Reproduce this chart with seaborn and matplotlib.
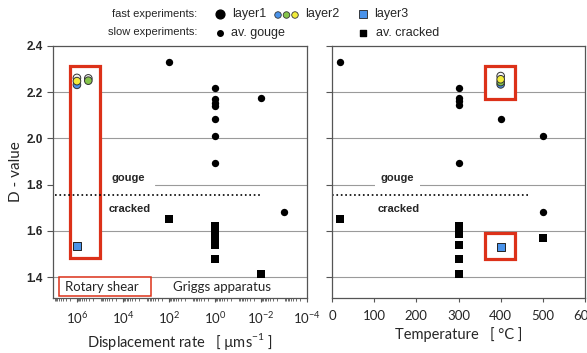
import numpy as np
import pandas as pd
import seaborn as sns
import matplotlib.pyplot as plt
from matplotlib.patches import Rectangle
from matplotlib.ticker import FixedLocator, LogLocator, NullFormatter, LogFormatterSciNotation

sns.set_style("ticks")
plt.rcParams['font.family'] = ['Lato', 'DejaVu Sans']
plt.rcParams['mathtext.fontset'] = 'custom'
plt.rcParams['mathtext.rm'] = 'Lato'

# slow experiments (Griggs) vs displacement rate [um/s]
gouge_rate = [1e2, 1, 1, 1, 1, 1, 1, 1, 1e-2, 1e-3]
gouge_rate_D = [2.33, 2.22, 2.17, 2.155, 2.14, 2.085, 2.01, 1.895, 2.175, 1.68]
cracked_rate = [1e2, 1, 1, 1, 1, 1, 1e-2]
cracked_rate_D = [1.65, 1.62, 1.59, 1.56, 1.54, 1.48, 1.415]

# slow experiments vs temperature [C]
gouge_temp = [20, 300, 300, 300, 300, 300, 400, 500, 500]
gouge_temp_D = [2.33, 2.22, 2.175, 2.16, 2.145, 1.895, 2.085, 2.01, 1.68]
cracked_temp = [20, 300, 300, 300, 300, 300, 500]
cracked_temp_D = [1.65, 1.62, 1.585, 1.54, 1.48, 1.415, 1.57]

# fast experiments (rotary shear)
fast_rate = [1e6, 1e6, 1e6, 3.2e5, 3.2e5]
fast_rate_D = [2.262, 2.232, 2.248, 2.26, 2.25]
fast_rate_layer = ['white', 'blue', 'yellow', 'white', 'green']
fast_temp = [400, 400, 400, 400]
fast_temp_D = [2.27, 2.234, 2.244, 2.256]
fast_temp_layer = ['white', 'blue', 'green', 'yellow']
layer3_rate, layer3_rate_D = [1e6], [1.533]
layer3_temp, layer3_temp_D = [400], [1.532]

threshold = 1.755
rate_ticks = [1e6, 1e4, 1e2, 1e0, 1e-2, 1e-4]
temp_ticks = [0, 100, 200, 300, 400, 500, 600]
d_ticks = [1.4, 1.6, 1.8, 2.0, 2.2, 2.4]

layer_colors = {'white': '#f4f4f4', 'blue': '#4a93ea', 'green': '#86c44a', 'yellow': '#f2ec3a'}
red = '#dc3119'
grid_col = '#9a9a9a'

fig = plt.figure(figsize=(5.87, 3.53), dpi=100)
ax1 = fig.add_axes([53/587, 1-298/353, 254/587, 252/353])
ax2 = fig.add_axes([332/587, 1-298/353, 253/587, 252/353])

for ax in (ax1, ax2):
    ax.set_ylim(1.31, 2.4)
    for d in d_ticks[:-1]:
        if ax is ax1 and d == 1.8:
            ax.axhline(d, xmin=0.40, color=grid_col, lw=0.8, zorder=0)
        else:
            ax.axhline(d, color=grid_col, lw=0.8, zorder=0)
    ax.yaxis.set_major_locator(FixedLocator(d_ticks))
    ax.tick_params(axis='y', direction='out', length=4, color='#555555')
    ax.tick_params(axis='x', direction='out', length=3, color='#555555', labelsize=9.5, pad=6)
    for s in ax.spines.values():
        s.set_color('#555555')
        s.set_linewidth(0.9)

# ---- left panel: displacement rate
ax1.set_xscale('log')
ax1.set_xlim(10**7.04, 1e-4)
ax1.xaxis.set_major_locator(FixedLocator(rate_ticks))
ax1.xaxis.set_major_formatter(LogFormatterSciNotation())
ax1.xaxis.set_minor_locator(LogLocator(base=10, subs=np.arange(2, 10), numticks=30))
ax1.xaxis.set_minor_formatter(NullFormatter())
ax1.tick_params(axis='x', which='minor', length=2, color='#555555')
ax1.set_yticklabels([f'{d:.1f}' for d in d_ticks], fontfamily='Liberation Sans',
                    fontweight='bold', fontsize=8.5)

ax1.add_patch(Rectangle((2e6, 1.481), 1e5 - 2e6, 2.313 - 1.481, facecolor='white',
                        edgecolor=red, lw=2.3, zorder=1))
ax1.axhline(threshold, xmin=0.008, xmax=0.823, color='black', ls=':', lw=1.2, zorder=2)
ax1.text(10**3.75, 1.827, 'gouge', ha='center', va='center', fontfamily='Liberation Sans',
         fontweight='bold', fontsize=8, bbox=dict(fc='white', ec='none', pad=1), zorder=3)
ax1.text(10**3.7, 1.697, 'cracked', ha='center', va='center', fontfamily='Liberation Sans',
         fontweight='bold', fontsize=8, zorder=3)

sns.scatterplot(x=gouge_rate, y=gouge_rate_D, ax=ax1, color='black', marker='o', s=28,
                edgecolor='black', linewidth=0, zorder=4)
sns.scatterplot(x=cracked_rate, y=cracked_rate_D, ax=ax1, color='black', marker='s', s=28,
                edgecolor='black', linewidth=0, zorder=4)
sns.scatterplot(x=fast_rate, y=fast_rate_D, hue=fast_rate_layer, palette=layer_colors, ax=ax1,
                marker='o', s=30, edgecolor='#333333', linewidth=0.7, legend=False, zorder=5)
sns.scatterplot(x=layer3_rate, y=layer3_rate_D, ax=ax1, color=layer_colors['blue'], marker='s',
                s=36, edgecolor='#222222', linewidth=0.7, zorder=5)

ax1.add_patch(Rectangle((0.024, 0.008), 0.362, 0.075, transform=ax1.transAxes,
                        facecolor='white', edgecolor=red, lw=1.1, zorder=3))
ax1.text(0.193, 0.044, 'Rotary shear', transform=ax1.transAxes, ha='center', va='center',
         fontsize=9.5, zorder=4)
ax1.text(0.665, 0.044, 'Griggs apparatus', transform=ax1.transAxes, ha='center', va='center',
         fontsize=9.5, zorder=4)
ax1.set_xlabel('Displacement rate   [ µms$^{\\mathdefault{-1}}$ ]', fontsize=10.5, labelpad=3)
ax1.set_ylabel('D - value', fontsize=11, labelpad=2)

# ---- right panel: temperature
ax2.set_xlim(0, 600)
ax2.xaxis.set_major_locator(FixedLocator(temp_ticks))
ax2.set_yticklabels([])
ax2.add_patch(Rectangle((362, 2.169), 72, 2.312 - 2.169, facecolor='white',
                        edgecolor=red, lw=2.3, zorder=1))
ax2.add_patch(Rectangle((362, 1.478), 72, 1.59 - 1.478, facecolor='white',
                        edgecolor=red, lw=2.3, zorder=1))
ax2.axhline(threshold, xmin=0, xmax=0.779, color='black', ls=':', lw=1.2, zorder=2)
ax2.text(155, 1.827, 'gouge', ha='center', va='center', fontfamily='Liberation Sans',
         fontweight='bold', fontsize=8, bbox=dict(fc='white', ec='none', pad=4), zorder=3)
ax2.text(157, 1.697, 'cracked', ha='center', va='center', fontfamily='Liberation Sans',
         fontweight='bold', fontsize=8, zorder=3)

sns.scatterplot(x=gouge_temp, y=gouge_temp_D, ax=ax2, color='black', marker='o', s=28,
                edgecolor='black', linewidth=0, zorder=4)
sns.scatterplot(x=cracked_temp, y=cracked_temp_D, ax=ax2, color='black', marker='s', s=28,
                edgecolor='black', linewidth=0, zorder=4)
sns.scatterplot(x=fast_temp, y=fast_temp_D, hue=fast_temp_layer, palette=layer_colors, ax=ax2,
                marker='o', s=30, edgecolor='#333333', linewidth=0.7, legend=False, zorder=5)
sns.scatterplot(x=layer3_temp, y=layer3_temp_D, ax=ax2, color=layer_colors['blue'], marker='s',
                s=36, edgecolor='#222222', linewidth=0.7, zorder=5)
ax2.set_xlabel('Temperature   [ °C ]', fontsize=10.5, labelpad=3)
ax2.set_ylabel('')

# ---- key at the top (pixel coordinates of the figure)
key = fig.add_axes([0, 0, 1, 1], zorder=-1)
key.set_xlim(0, 587)
key.set_ylim(353, 0)
key.axis('off')
kf = dict(fontfamily='Liberation Sans', fontsize=8, va='center')
key.text(197, 14, 'fast experiments:', ha='right', **kf)
key.text(197, 32, 'slow experiments:', ha='right', **kf)
kf['fontsize'] = 9
key.scatter([220], [14], s=40, color='black')
key.text(232, 14, 'layer1', **kf)
key.scatter([278, 286.5, 295], [15, 15, 15], s=22,
            color=[layer_colors['blue'], layer_colors['green'], layer_colors['yellow']],
            edgecolor='#333333', linewidth=0.6)
key.text(305, 14, 'layer2', **kf)
key.scatter([363], [14], s=36, marker='s', color=layer_colors['blue'],
            edgecolor='#222222', linewidth=0.6)
key.text(374, 14, 'layer3', **kf)
key.scatter([220], [33], s=16, color='black')
key.text(231, 33, 'av. gouge', **kf)
key.scatter([363], [33], s=16, marker='s', color='black')
key.text(376, 33, 'av. cracked', **kf)

fig.savefig('out.png', dpi=100)
